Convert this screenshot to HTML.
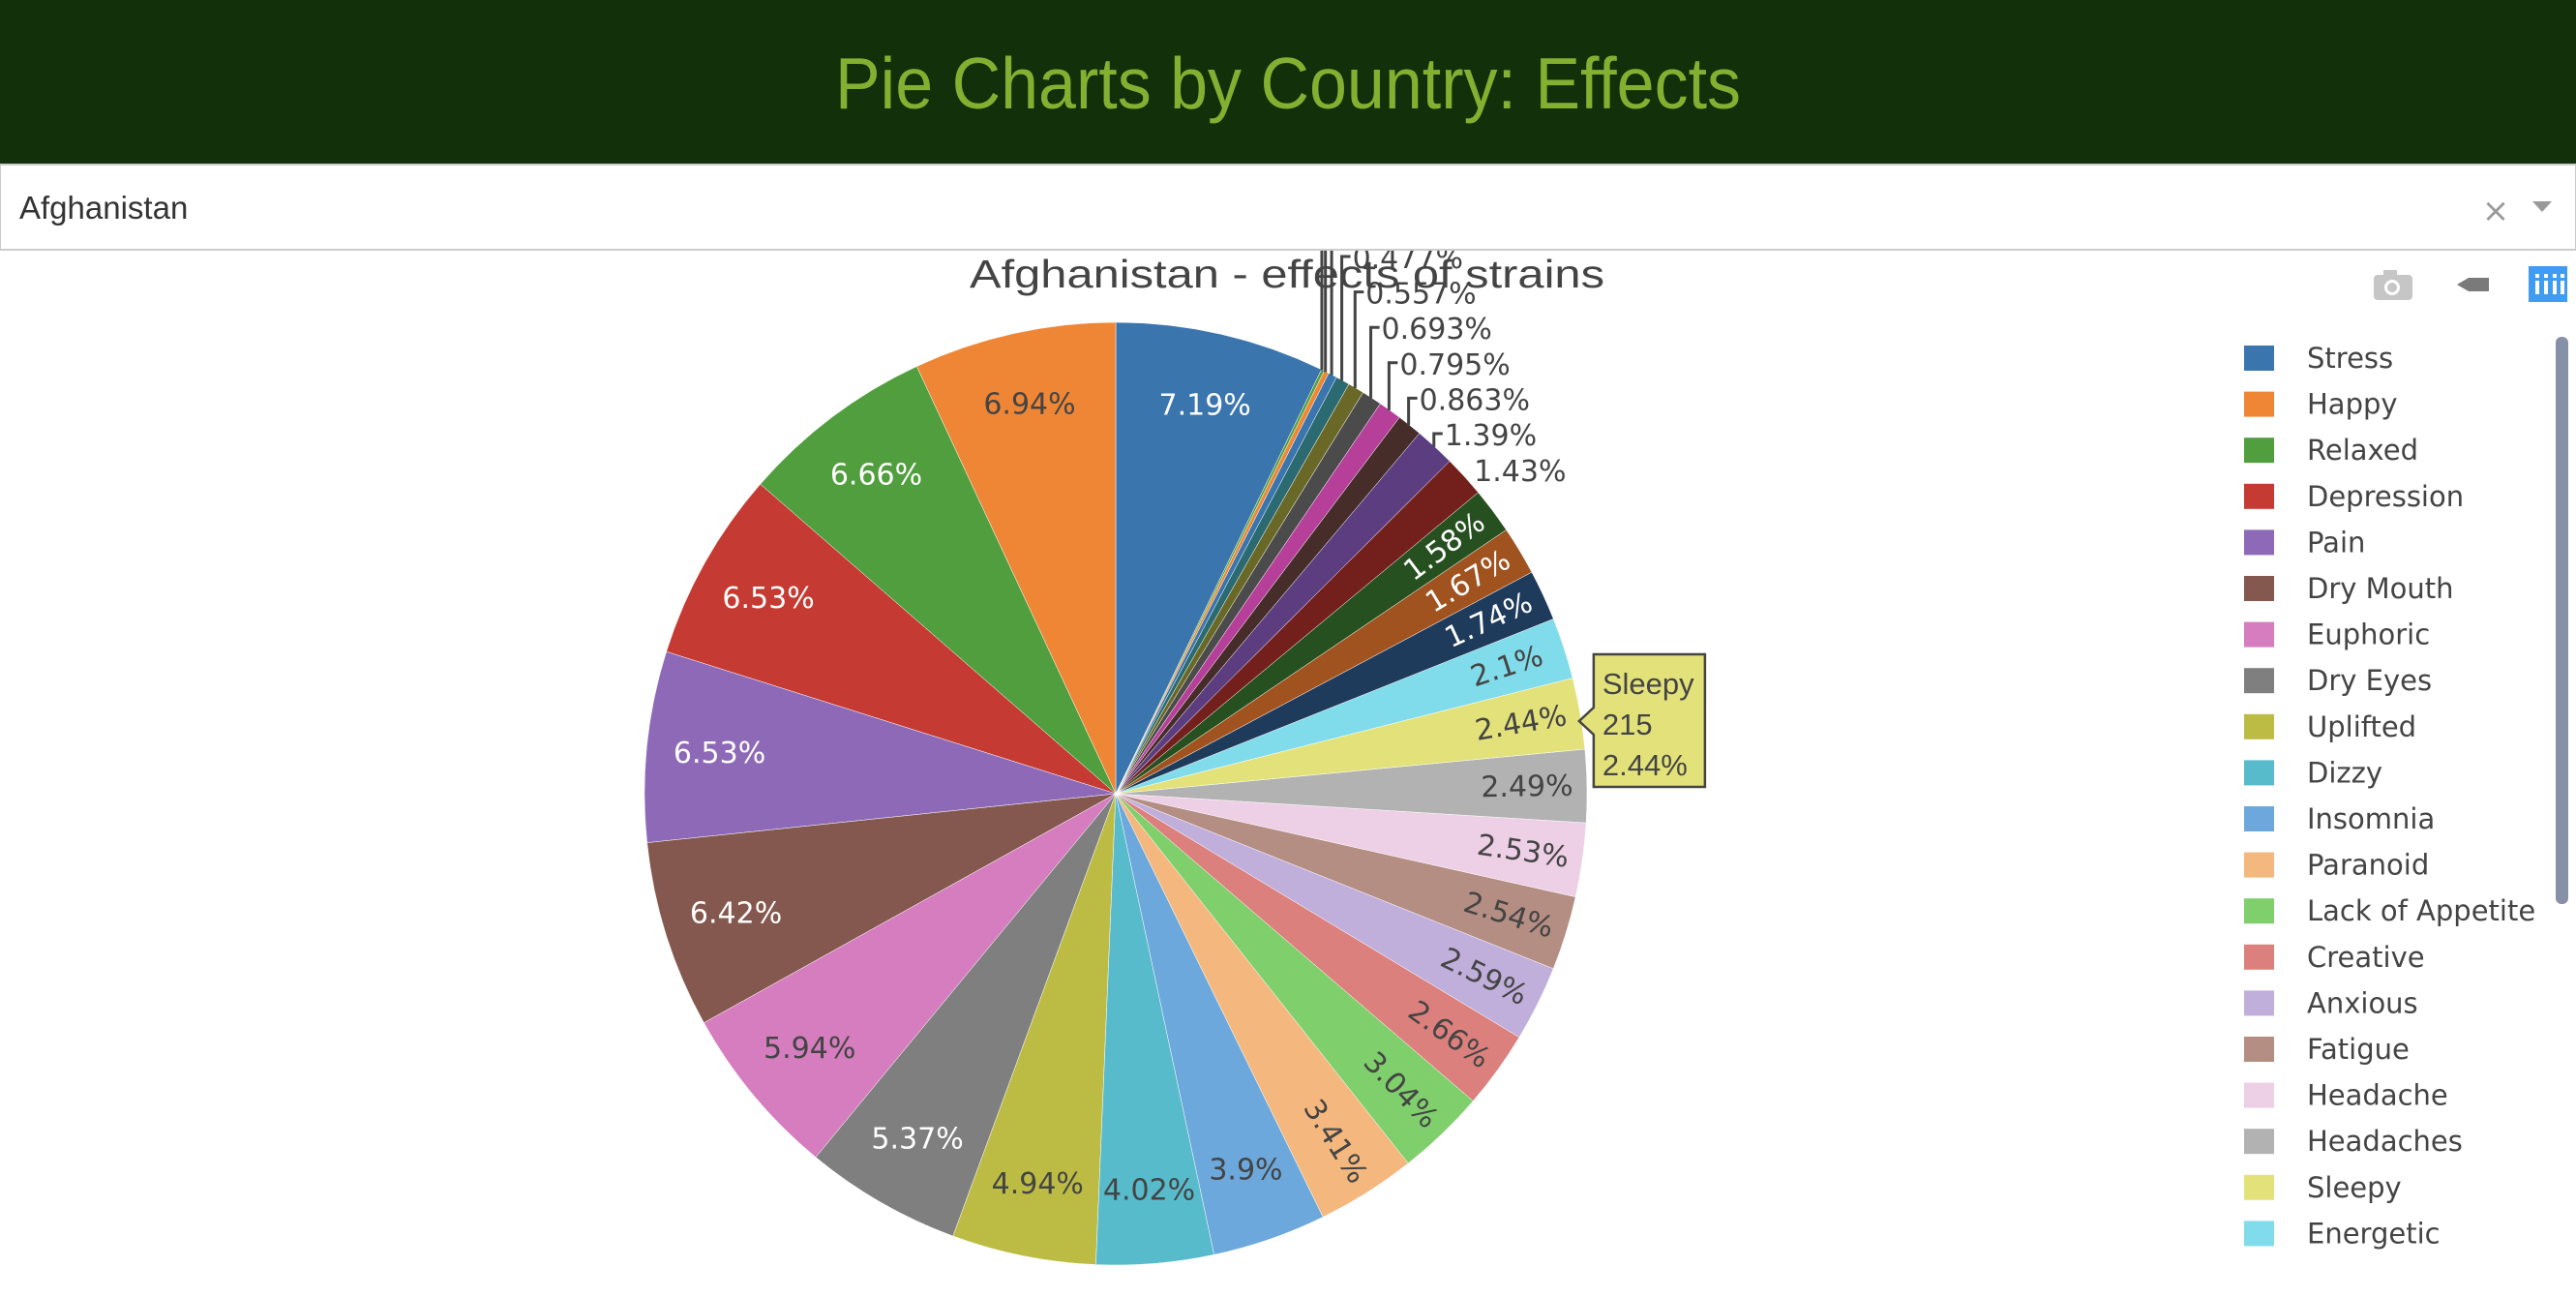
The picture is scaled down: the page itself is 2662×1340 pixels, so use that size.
<!DOCTYPE html>
<html><head><meta charset="utf-8">
<style>
html,body{margin:0;padding:0;width:2662px;height:1340px;overflow:hidden;background:#fff;}
svg{display:block;}
</style></head>
<body>
<svg id="root" width="2662" height="1340" viewBox="0 0 2662 1340" xmlns="http://www.w3.org/2000/svg">
  <rect x="0" y="0" width="2662" height="170" fill="#12300a"/>
  <text x="1331" y="112" text-anchor="middle" textLength="936" lengthAdjust="spacingAndGlyphs" font-family="Liberation Sans, sans-serif" font-size="75" fill="#84b032">Pie Charts by Country: Effects</text>
  <g>
    <rect x="0" y="170" width="2662" height="88" fill="#fff" stroke="#cccccc" stroke-width="2"/>
    <text x="20" y="226" font-family="Liberation Sans, sans-serif" font-size="33" fill="#333">Afghanistan</text>
    <text x="2579" y="229" text-anchor="middle" font-family="DejaVu Sans, sans-serif" font-size="34" fill="#999">×</text>
    <path d="M2617 208 L2637 208 L2627 219 Z" fill="#999"/>
  </g>
  <svg x="0" y="259" width="2662" height="1081" viewBox="0 259 2662 1081" overflow="hidden">
    <g id="pie"></g>
    <text x="1330" y="297" text-anchor="middle" font-family="Liberation Sans, sans-serif" font-size="41" fill="#444" textLength="656" lengthAdjust="spacingAndGlyphs">Afghanistan - effects of strains</text>
    <g id="labels"></g>
    <g id="tooltip"></g>
    <g>
      <g>
        <rect x="2453" y="284" width="40" height="26" rx="4" fill="#c6c6c6"/>
        <rect x="2463" y="279" width="14" height="7" fill="#c6c6c6"/>
        <circle cx="2472" cy="297" r="8" fill="#fff"/>
        <circle cx="2472" cy="297" r="5" fill="#c6c6c6"/>
      </g>
      <path d="M2539 294 L2551 287 L2572 287 L2572 301 L2551 301 Z" fill="#7a7a7a"/>
      <g>
        <rect x="2613" y="275" width="40" height="37" fill="#3e9cf2"/>
        <rect x="2620" y="290" width="4" height="14" fill="#fff"/><rect x="2620" y="283" width="4" height="4" fill="#fff"/>
        <rect x="2629" y="290" width="4" height="14" fill="#fff"/><rect x="2629" y="283" width="4" height="4" fill="#fff"/>
        <rect x="2638" y="290" width="4" height="14" fill="#fff"/><rect x="2638" y="283" width="4" height="4" fill="#fff"/>
        <rect x="2646" y="290" width="4" height="14" fill="#fff"/><rect x="2646" y="283" width="4" height="4" fill="#fff"/>
      </g>
    </g>
    <svg x="2300" y="340" width="362" height="967" viewBox="2300 340 362 967" overflow="hidden">
      <g id="legend"></g>
    </svg>
    <rect x="2641" y="348" width="13" height="586" rx="6" fill="#8690a6"/>
  </svg>
</svg>
<script>
const names = ["Stress","Happy","Relaxed","Depression","Pain","Dry Mouth","Euphoric","Dry Eyes","Uplifted","Dizzy","Insomnia","Paranoid","Lack of Appetite","Creative","Anxious","Fatigue","Headache","Headaches","Sleepy","Energetic","Hungry","Talkative","Tingly","Giggly","Aroused","Focused","Nausea","Anxiety","Sleepiness","Hunger","Paranoia","Dehydration","Calm"];
const values = [7.19,6.94,6.66,6.53,6.53,6.42,5.94,5.37,4.94,4.02,3.9,3.41,3.04,2.66,2.59,2.54,2.53,2.49,2.44,2.1,1.74,1.67,1.58,1.43,1.39,0.863,0.795,0.693,0.557,0.477,0.3,0.17,0.1];
const counts = [634,611,587,575,575,566,523,473,435,354,344,300,268,234,228,224,223,219,215,185,153,147,139,126,122,76,70,61,49,42,26,15,9];
const colors = ["#3a75ae","#ef8636","#519e3e","#c53a32","#8d69b8","#84584e","#d57dbf","#7f7f7f","#bcbc45","#58bbcc","#6ca8dc","#f4b87f","#7fcf6c","#dc807d","#c0aedb","#b48d83","#edcfe6","#b2b2b2","#e3e27a","#80dbeb","#1f3b5c","#a0521f","#26501f","#73201d","#5b3d80","#472d29","#b53f99","#4b4b4b","#6a6827","#2b6a70","#3a75ae","#ef8636","#519e3e"];
const hoverIndex = 18;

const NS="http://www.w3.org/2000/svg";
const CX=1153, CY=820, R=487;
const total = values.reduce((a,b)=>a+b,0);
function pt(deg,r){const a=deg*Math.PI/180;return [CX+r*Math.sin(a), CY-r*Math.cos(a)];}
function fmt(v){return parseFloat((v/total*100).toPrecision(3))+"%";}
function luma(h){const r=parseInt(h.substr(1,2),16),g=parseInt(h.substr(3,2),16),b=parseInt(h.substr(5,2),16);return (0.299*r+0.587*g+0.114*b)/255;}
const s0 = values[0]/total*360;
let cum=0; const angles=[];
for(let i=0;i<values.length;i++){
  const a = values[i]/total*360;
  const end = s0 - cum, start = s0 - cum - a;
  angles.push([start,end]); cum += a;
}
const pie=document.getElementById('pie');
const lab=document.getElementById('labels');
for(let i=0;i<values.length;i++){
  const [a0,a1]=angles[i];
  const p0=pt(a0,R), p1=pt(a1,R);
  const large=(a1-a0)>180?1:0;
  const path=document.createElementNS(NS,'path');
  path.setAttribute('d',`M${CX} ${CY} L${p0[0]} ${p0[1]} A${R} ${R} 0 ${large} 1 ${p1[0]} ${p1[1]} Z`);
  path.setAttribute('fill',colors[i]);
  path.setAttribute('stroke','#fff');
  path.setAttribute('stroke-width','0.5');
  
  
  pie.appendChild(path);
}
let stack=0;
for(let i=0;i<values.length;i++){
  const pct=values[i]/total*100;
  const mid=(angles[i][0]+angles[i][1])/2;
  const t=document.createElementNS(NS,'text');
  t.setAttribute('font-family','DejaVu Sans, sans-serif');
  t.setAttribute('font-size','30');
  t.textContent=fmt(values[i]);
  
  
  if(pct>=1.5){
    t.setAttribute('fill', luma(colors[i])<0.55?'#fff':'#444');
    t.setAttribute('text-anchor','middle');
    t.setAttribute('dominant-baseline','central');
    if(pct>=3.8){
      const p=pt(mid,R*0.845);
      t.setAttribute('x',p[0]);t.setAttribute('y',p[1]);
    } else {
      const p=pt(mid,R-62);
      let rot=mid-90; while(rot>180)rot-=360; while(rot<-180)rot+=360;
      if(rot>90)rot-=180; if(rot<-90)rot+=180;
      t.setAttribute('x',p[0]);t.setAttribute('y',p[1]);
      t.setAttribute('transform',`rotate(${rot} ${p[0]} ${p[1]})`);
    }
    lab.appendChild(t);
  } else {
    t.setAttribute('fill','#444');
    const e=pt(mid,R);
    if(pct>=1.42){
      t.setAttribute('x',e[0]+10);t.setAttribute('y',e[1]+5);
      lab.appendChild(t);
    } else {
      const ly=460-36.6*stack; stack++;
      const hx=e[0]-1;
      const line=document.createElementNS(NS,'path');
      line.setAttribute('d',`M${hx} ${e[1]} L${hx} ${ly-12} L${hx+9} ${ly-12}`);
      line.setAttribute('stroke','#444');line.setAttribute('stroke-width','3');line.setAttribute('fill','none');
      
      
      lab.appendChild(line);
      t.setAttribute('x',hx+11);t.setAttribute('y',ly);
      lab.appendChild(t);
    }
  }
}
(function(){
  const i=hoverIndex; const mid=(angles[i][0]+angles[i][1])/2;
  const e=pt(mid,R);
  const tx=e[0]-1, ty=e[1]+8;
  const g=document.getElementById('tooltip');
  const p=document.createElementNS(NS,'path');
  const bx=tx+15, bw=115, by=ty-69, bh=137;
  p.setAttribute('d',`M${tx} ${ty} L${bx} ${ty-14} L${bx} ${by} L${bx+bw} ${by} L${bx+bw} ${by+bh} L${bx} ${by+bh} L${bx} ${ty+14} Z`);
  p.setAttribute('fill',colors[i]);p.setAttribute('stroke','#444');p.setAttribute('stroke-width','2.5');
  
  
  g.appendChild(p);
  const lines=[names[i], String(counts[i]), fmt(values[i])];
  lines.forEach((s,k)=>{
    const t=document.createElementNS(NS,'text');
    t.setAttribute('x',bx+9);t.setAttribute('y',by+41+k*42);
    t.setAttribute('font-family','Liberation Sans, sans-serif');t.setAttribute('font-size','31');t.setAttribute('fill','#444');
    t.textContent=s;
    
    
    g.appendChild(t);
  });
})();
const lg=document.getElementById('legend');
for(let i=0;i<names.length;i++){
  const y=370+47.6*i;
  if(y-13>1310) break;
  const g=document.createElementNS(NS,'g');
  
  
  const r=document.createElementNS(NS,'rect');
  r.setAttribute('x',2319);r.setAttribute('y',y-13);r.setAttribute('width',31);r.setAttribute('height',26);r.setAttribute('fill',colors[i]);
  g.appendChild(r);
  const t=document.createElementNS(NS,'text');
  t.setAttribute('x',2384);t.setAttribute('y',y+10);
  t.setAttribute('font-family','DejaVu Sans, sans-serif');t.setAttribute('font-size','29');t.setAttribute('fill','#444');
  t.textContent=names[i];
  g.appendChild(t);
  lg.appendChild(g);
}
</script>
</body></html>
